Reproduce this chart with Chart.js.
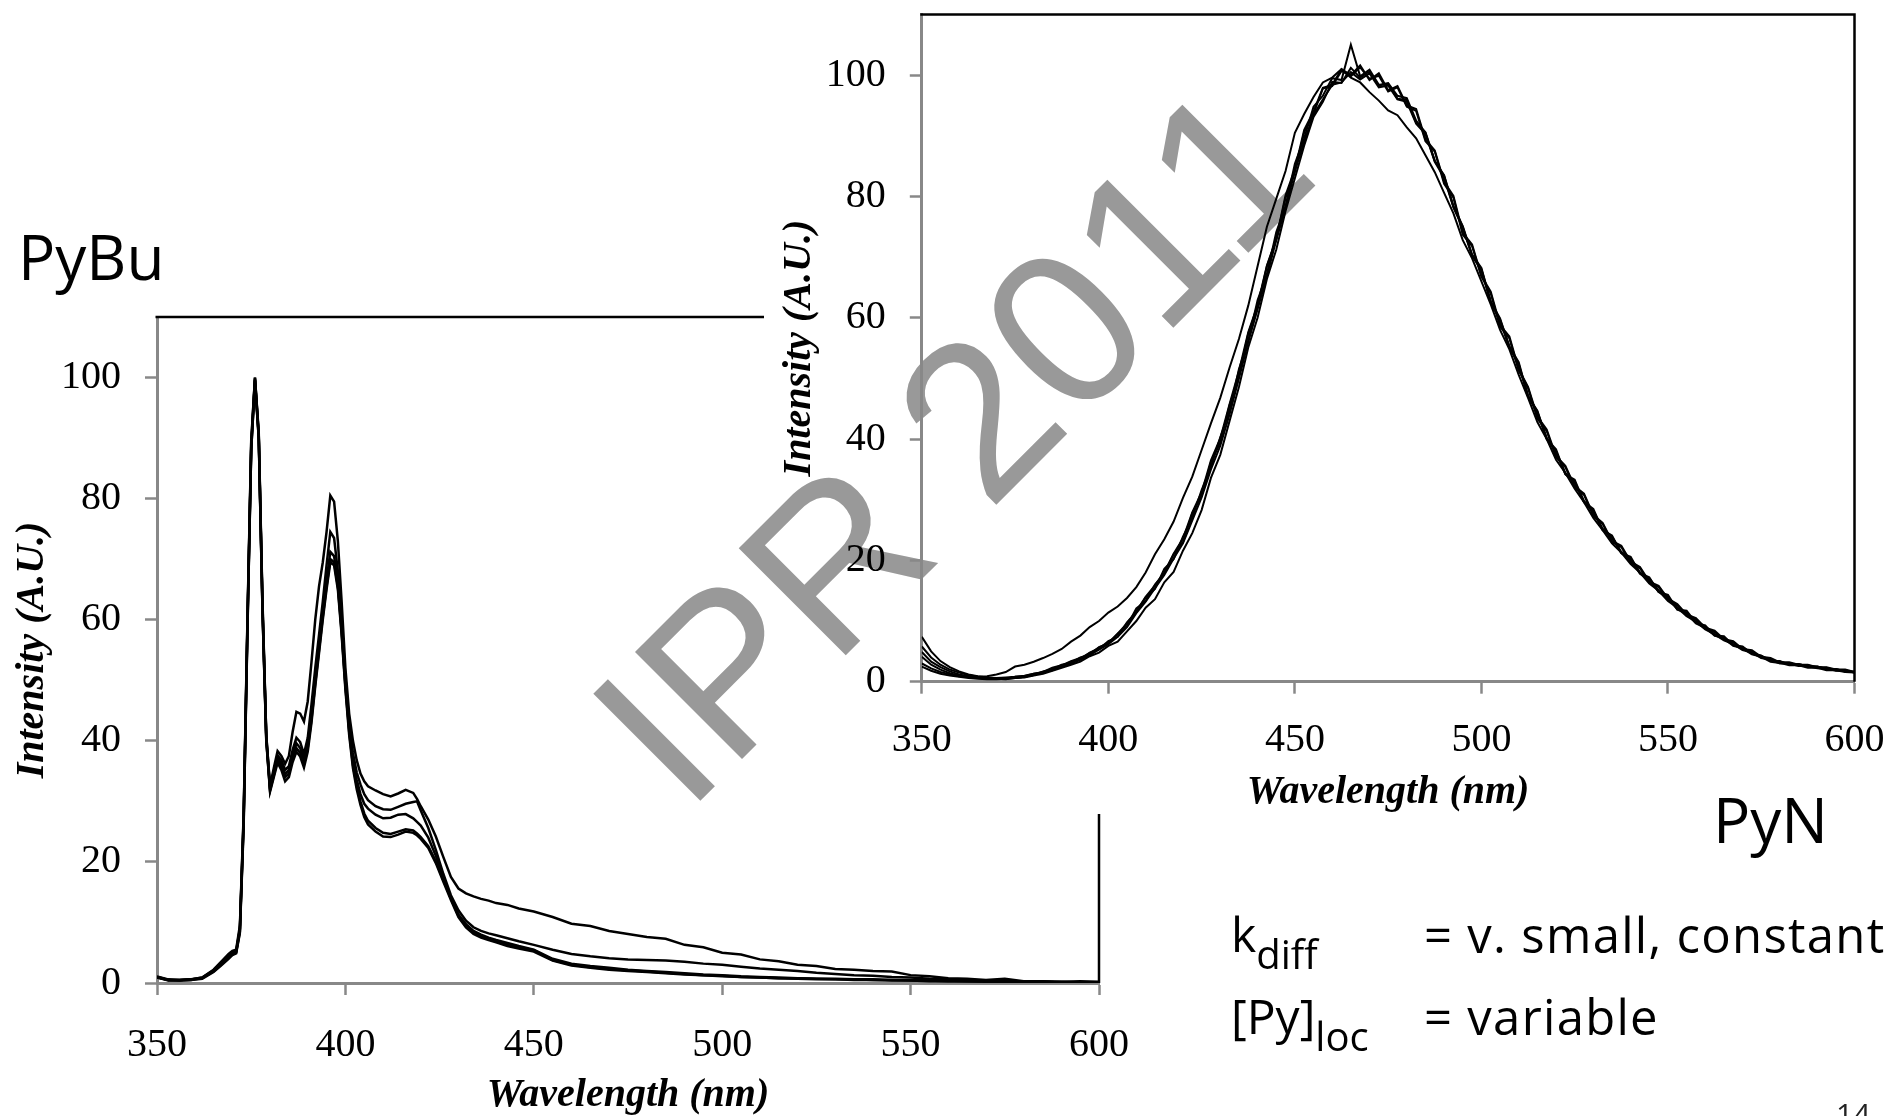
<!DOCTYPE html>
<html><head><meta charset="utf-8">
<script src="https://cdn.jsdelivr.net/npm/chart.js@4.4.1/dist/chart.umd.min.js"></script>
<style>
html,body{margin:0;padding:0;background:#fff;width:1892px;height:1116px;overflow:hidden;}
#wrap{position:relative;width:1892px;height:1116px;overflow:hidden;}
canvas{position:absolute;}
#cL{left:0;top:0;}
#cR{left:764px;top:0;}
.t{position:absolute;font-family:"Open Sans",sans-serif;color:#000;line-height:1;white-space:nowrap;}
.sub{position:relative;top:17px;font-size:40px;}
</style></head><body>
<div id="wrap">
<canvas id="cL" width="1892" height="1116"></canvas>
<canvas id="cR" width="1128" height="814"></canvas>
<div class="t" style="left:18px;top:225px;font-size:62px">PyBu</div>
<div class="t" style="left:1713px;top:788px;font-size:62px">PyN</div>
<div class="t" style="left:1231px;top:910px;font-size:48px">k<span class="sub">diff</span></div>
<div class="t" style="left:1424px;top:910px;font-size:49px;letter-spacing:1.3px">= v. small, constant</div>
<div class="t" style="left:1231px;top:992px;font-size:48px">[Py]<span class="sub">loc</span></div>
<div class="t" style="left:1424px;top:992px;font-size:49px;letter-spacing:1.3px">= variable</div>
<div class="t" style="left:1836px;top:1099px;font-size:30px;color:#222">14</div>
</div>
<script>
// ---------- PyBu (left chart) ----------
const wavelengthsPyBu = [350,353,356,359,362,365,367,369,370,371,372,373,374,375,376,377,378,379,380,
381,382,383,384,385,386,387,388,389,390,391,392,393,394,395,396,397,398,399,400,401,402,403,404,405,406,
408,410,412,414,416,418,419,420,
422,424,426,428,430,432,434,436,438,440,
443,446,
450,455,460,465,470,475,480,485,490,495,500,505,510,515,520,525,530,535,540,545,550,555,560,565,570,575,580,585,590,595,600];

const pyBu1 = [1.0,0.5,0.5,0.6,0.9,2.2,3.5,4.8,5.3,5.5,9.5,28,60,89.5,100,91,63,41,32.5,
35.5,38.3,37.5,36.2,37.5,41.5,44.8,44.5,43.2,46.5,53,60,65.5,69.5,74.5,80.5,79.5,73,63,52,44.5,40,36.8,34.6,33.3,32.5,
31.8,31.2,30.8,31.3,31.9,31.4,30.4,29.2,
27.0,24.2,20.8,17.5,15.6,14.8,14.3,13.9,13.6,13.2,
12.9,12.3,
11.8,10.9,9.8,9.4,8.6,8.1,7.6,7.3,6.3,5.9,5.0,4.7,3.9,3.6,3.0,2.8,2.3,2.2,2.0,1.9,1.3,1.1,0.8,0.7,0.5,0.7,0.3,0.3,0.2,0.3,0.2];

const pyBu2 = [1.0,0.5,0.5,0.6,0.9,2.1,3.4,4.6,5.1,5.3,9,27.5,59.5,89,100,90.5,62.5,40.8,32.3,
35.0,37.6,36.8,35.2,35.8,38.5,40.5,39.8,37.8,40.5,46,52,57.5,63,69,74.5,73.5,68,60,50.5,43,38,34.8,32.8,31.2,30.2,
29.2,28.7,28.6,29.1,29.6,29.9,30.0,28.5,
25.6,22.0,18.0,14.5,12.0,10.3,9.2,8.6,8.2,7.9,
7.4,6.9,
6.3,5.5,4.8,4.4,4.1,3.9,3.8,3.7,3.5,3.2,3.0,2.7,2.4,2.2,2.0,1.7,1.5,1.3,1.2,1.0,0.9,0.7,0.6,0.5,0.4,0.3,0.2,0.2,0.1,0.1,0.1];

const pyBu3 = [1.1,0.6,0.5,0.6,0.8,2.0,3.2,4.4,4.9,5.1,8.8,27,59,88.5,99.8,90.5,62,40.5,32.0,
34.6,37.2,36.2,34.5,35.2,37.8,39.6,38.8,36.9,39.5,44.5,50.5,56,61.5,66.5,71.2,70.5,66,58.5,49.5,42,36.8,33.6,31.2,29.6,28.8,
27.8,27.2,27.3,27.8,27.9,27.2,26.6,26.0,
24.0,21.0,17.4,14.0,11.3,9.7,8.6,8.0,7.5,7.1,
6.6,6.1,
5.5,4.0,3.2,2.8,2.5,2.2,2.0,1.8,1.6,1.4,1.3,1.1,1.0,0.9,0.8,0.7,0.7,0.6,0.6,0.5,0.5,0.4,0.4,0.3,0.3,0.3,0.2,0.2,0.2,0.1,0.1];

const pyBu4 = [0.9,0.5,0.4,0.5,0.8,1.9,3.0,4.2,4.7,5.0,8.5,26.5,58.5,88,99.6,90,61.5,40.2,31.8,
34.3,36.8,35.8,34.0,34.6,37.0,38.8,38.0,36.2,38.8,43.5,49.5,55,60.5,65.5,70.0,69.5,65.5,58,49,41.5,36,32.6,30.0,28.0,26.8,
25.6,24.8,24.6,25.0,25.4,25.2,24.7,24.1,
22.6,20.1,17.0,14.0,11.1,9.4,8.3,7.7,7.3,6.9,
6.3,5.9,
5.4,3.8,3.0,2.6,2.3,2.1,1.9,1.7,1.5,1.3,1.2,1.0,0.9,0.8,0.8,0.7,0.6,0.6,0.5,0.5,0.4,0.4,0.3,0.3,0.3,0.2,0.2,0.2,0.1,0.1,0.1];

const pyBu5 = [0.9,0.4,0.4,0.5,0.7,1.8,2.9,4.0,4.6,4.9,8.3,26,58,88,99.5,90,61.5,40,31.6,
34.0,36.4,35.2,33.3,34.0,36.5,38.2,37.4,35.6,38.2,43,49,54.5,60,65,69.5,69,65,57.5,48.5,41,35.5,32.0,29.4,27.4,26.2,
25.0,24.2,24.1,24.5,25.0,24.8,24.4,23.8,
22.3,19.8,16.7,13.7,10.9,9.2,8.1,7.5,7.1,6.7,
6.1,5.7,
5.2,3.7,2.9,2.5,2.2,2.0,1.8,1.6,1.4,1.3,1.1,1.0,0.9,0.8,0.7,0.6,0.6,0.5,0.5,0.4,0.4,0.3,0.3,0.3,0.2,0.2,0.2,0.1,0.1,0.1,0.1];

// ---------- PyN (right chart) ----------
const wavelengthsPyN = [350,352.5,355,357.5,360,362.5,365,367.5,370,372.5,375,377.5,380,382.5,385,387.5,390,392.5,395,397.5,
400,402.5,405,407.5,410,412.5,415,417.5,420,422.5,425,427.5,430,432.5,435,437.5,440,442.5,445,447.5,
450,452.5,455,457.5,460,462.5,465,467.5,470,472.5,475,477.5,480,482.5,485,487.5,490,492.5,495,497.5,
500,502.5,505,507.5,510,512.5,515,517.5,520,522.5,525,527.5,530,532.5,535,537.5,540,542.5,545,547.5,
550,552.5,555,557.5,560,562.5,565,567.5,570,572.5,575,577.5,580,582.5,585,587.5,590,592.5,595,597.5,600];

const pyN1 = [3.0,2.2,1.6,1.2,0.9,0.8,0.8,0.9,1.2,1.6,
2.5,2.8,3.3,3.9,4.6,5.4,6.6,7.6,9.0,10.0,
11.4,12.4,13.8,15.6,18.0,21.0,23.5,26.4,30.3,33.8,
38.2,42.6,46.8,51.8,56.5,62.0,68.5,75.0,79.6,84.2,
90.5,93.6,96.4,98.8,99.6,101.0,99.6,98.8,97.2,95.8,
94.2,93.4,91.4,89.6,86.8,84.0,80.6,77.2,72.8,69.8,
66.0,62.2,58.0,54.8,50.6,46.8,42.8,40.0,36.6,34.4,
31.8,29.6,27.0,25.0,22.8,21.3,19.4,18.0,16.2,15.0,
13.3,12.2,10.8,9.9,8.6,7.8,6.8,6.2,5.2,4.8,
3.9,3.6,3.0,3.0,2.6,2.6,2.2,2.2,1.8,1.8,
1.5];

const pyN2 = [7.4,5.0,3.4,2.4,1.7,1.2,0.9,0.7,0.6,0.5,
0.8,0.9,1.3,1.5,2.2,2.5,3.3,3.7,4.8,5.4,
6.7,7.4,9.8,11.5,13.9,15.3,18.6,20.2,23.9,27.0,
31.6,35.4,40.3,44.6,51.5,56.2,62.9,67.2,74.1,78.4,
85.4,89.6,94.8,96.6,99.5,99.2,105.0,99.8,100.9,98.4,
98.7,96.6,96.2,92.5,90.5,85.8,83.5,78.4,75.1,70.4,
68.2,62.6,59.9,55.2,52.7,47.0,44.7,40.0,38.3,34.2,
33.3,29.6,28.5,25.0,24.1,21.2,20.6,17.9,17.2,14.8,
14.3,11.9,11.7,9.7,9.3,7.6,7.5,6.0,5.8,4.6,
4.3,3.4,3.4,2.8,2.9,2.5,2.5,2.1,2.1,1.7,
1.6];

const pyN3 = [5.8,4.0,2.8,2.0,1.5,1.1,0.8,0.6,0.5,0.6,
0.6,0.8,1.1,1.7,2.0,2.8,3.1,4.0,4.4,5.7,
6.3,7.9,9.2,12.1,13.3,16.0,17.9,21.0,23.0,27.8,
30.6,36.2,39.4,45.6,50.4,57.4,61.8,68.5,72.9,79.8,
84.1,90.6,93.6,97.8,98.2,100.7,99.8,101.3,99.4,99.9,
97.3,98.0,94.8,94.1,89.1,87.4,82.1,79.8,73.7,71.8,
66.8,64.0,58.5,56.6,51.3,48.4,43.4,41.3,37.0,35.4,
32.0,30.8,27.3,26.0,23.0,22.2,19.6,18.7,16.3,15.6,
13.5,12.6,10.9,10.3,8.7,8.2,6.9,6.5,5.3,5.0,
4.0,3.8,3.1,3.1,2.7,2.7,2.3,2.3,1.9,1.9,
1.5];

const pyN4 = [4.9,3.3,2.4,1.7,1.2,0.9,0.7,0.5,0.5,0.4,
0.6,0.7,1.0,1.3,1.8,2.3,2.8,3.3,4.2,4.8,
5.9,6.6,8.3,10.0,12.2,13.6,16.4,18.1,21.6,24.5,
28.3,33.6,37.4,43.0,48.6,55.1,60.0,66.4,71.2,77.6,
83.0,88.4,93.1,95.6,98.9,98.7,101.2,99.6,100.6,98.3,
98.6,96.1,95.9,92.2,90.6,85.9,83.4,78.3,75.0,70.3,
68.0,62.7,59.7,55.3,52.4,47.2,44.5,40.2,38.0,34.4,
33.0,29.8,28.2,25.2,23.9,21.4,20.3,18.0,17.0,15.0,
14.0,12.1,11.4,9.8,9.1,7.8,7.3,6.1,5.7,4.7,
4.3,3.5,3.3,2.9,2.9,2.5,2.5,2.1,2.1,1.7,
1.7];

const pyN5 = [4.1,2.8,2.0,1.4,1.0,0.8,0.6,0.5,0.6,0.7,
0.8,1.0,1.3,1.6,2.3,2.7,3.4,3.9,4.7,5.6,
6.4,7.9,9.6,11.6,14.0,15.9,18.0,21.1,23.6,27.9,
31.2,36.5,40.1,45.8,51.2,57.6,62.1,68.6,73.0,80.2,
84.5,91.0,94.0,97.9,98.4,101.0,100.0,101.6,99.2,100.3,
97.5,98.2,95.0,94.4,89.4,87.6,82.4,80.1,74.0,72.1,
66.9,64.3,58.8,56.9,51.5,48.6,43.7,41.6,37.2,35.6,
32.2,31.0,27.5,26.2,23.2,22.4,19.8,18.9,16.5,15.8,
13.7,12.8,11.1,10.5,8.9,8.4,7.0,6.7,5.4,5.2,
4.1,3.9,3.2,3.2,2.8,2.8,2.4,2.4,2.0,2.0,
1.6];

const pyN6 = [2.5,1.8,1.3,1.0,0.8,0.6,0.5,0.4,0.4,0.5,
0.6,0.8,1.1,1.5,1.9,2.5,3.0,3.6,4.4,5.3,
6.2,7.4,9.0,11.3,13.2,15.4,17.6,20.3,22.8,26.6,
30.4,35.0,38.9,44.1,50.0,56.0,61.4,66.9,72.8,78.1,
84.2,89.0,93.5,96.0,98.4,98.8,100.5,99.3,100.3,98.0,
98.3,96.0,95.6,92.0,90.3,85.7,83.1,78.2,74.8,70.2,
67.8,62.5,59.5,55.1,52.2,47.0,44.3,40.0,37.8,34.2,
32.8,29.6,28.0,25.0,23.7,21.2,20.1,17.8,16.8,14.8,
13.8,11.9,11.2,9.6,8.9,7.6,7.1,5.9,5.5,4.5,
4.1,3.3,3.1,2.7,2.7,2.3,2.3,1.9,1.9,1.6,
1.5];

// ---------- shared pieces ----------
const xTitle = 'Wavelength (nm)';
const yTitle = 'Intensity (A.U.)';
const watermarkText = 'IPR 2011';

function bgAndWatermark(offX, offY) {
  return {
    id: 'bgwm',
    beforeDraw(chart) {
      const c = chart.ctx;
      c.save();
      c.fillStyle = '#fff';
      c.fillRect(0, 0, chart.width, chart.height);
      c.translate(686 - offX, 815 - offY);
      c.rotate(-Math.PI / 4);
      c.font = '220px "Liberation Sans", Arial, sans-serif';
      c.fillStyle = '#999999';
      c.textAlign = 'left';
      c.textBaseline = 'alphabetic';
      c.fillText(watermarkText, 0, 0);
      c.restore();
    }
  };
}
const frame = {
  id: 'frame',
  afterDatasetsDraw(chart) {
    const {left, right, top, bottom} = chart.chartArea;
    const c = chart.ctx;
    c.save();
    c.strokeStyle = '#000';
    c.lineWidth = 2.5;
    c.beginPath();
    c.moveTo(left - 1.5, top);
    c.lineTo(right, top);
    c.lineTo(right, bottom);
    c.stroke();
    c.restore();
  }
};

function toXY(xs, ys) { return xs.map((x, i) => ({x: x, y: ys[i]})); }
function ds(xs, ys, w) {
  return {data: toXY(xs, ys), borderColor: '#000', borderWidth: w, pointRadius: 0, fill: false, tension: 0};
}
const serif = '"Liberation Serif", "Times New Roman", serif';
function scales(o) {
  const grid = {drawOnChartArea: false, drawTicks: true, tickLength: 12, tickColor: '#888', tickWidth: 2.5, color: '#888'};
  const border = {display: true, color: '#888', width: 3};
  return {
    x: {
      type: 'linear', min: 350, max: 600,
      ticks: {stepSize: 50, includeBounds: false, autoSkip: false, maxRotation: 0, color: '#000',
              font: {family: serif, size: 40}, padding: o.xPad},
      grid: grid, border: border,
      title: {display: true, text: xTitle, color: '#000',
              font: {family: serif, size: 40, style: 'italic', weight: 'bold', lineHeight: 1},
              padding: {top: 0, bottom: o.xTitlePad}},
      afterFit: (s) => { s.height = o.xH; s.paddingLeft = 0; s.paddingRight = 0; s.paddingTop = 0; s.paddingBottom = 0; }
    },
    y: {
      type: 'linear', min: 0, max: 110,
      ticks: {stepSize: 20, includeBounds: false, autoSkip: false, color: '#000',
              font: {family: serif, size: 40}, padding: 24},
      grid: grid, border: border,
      title: {display: true, text: yTitle, color: '#000',
              font: {family: serif, size: 40, style: 'italic', weight: 'bold', lineHeight: 1},
              padding: {top: o.yTitlePad, bottom: 0}},
      afterFit: (s) => { s.width = o.yW; s.paddingLeft = 0; s.paddingRight = 0; s.paddingTop = 0; s.paddingBottom = 0; }
    }
  };
}
function baseOptions(pad, sc) {
  return {
    responsive: false, animation: false, devicePixelRatio: 1,
    layout: {padding: pad},
    plugins: {legend: {display: false}, tooltip: {enabled: false}, title: {display: false}},
    scales: sc
  };
}

new Chart(document.getElementById('cL'), {
  type: 'line',
  data: {datasets: [pyBu1, pyBu2, pyBu3, pyBu4, pyBu5].map(s => ds(wavelengthsPyBu, s, 2.5))},
  options: baseOptions({left: 0, top: 317, right: 793, bottom: 0},
    scales({xPad: 26, xTitlePad: 0, xH: 133, yTitlePad: 13, yW: 157})),
  plugins: [bgAndWatermark(0, 0), frame]
});

new Chart(document.getElementById('cR'), {
  type: 'line',
  data: {datasets: [pyN1, pyN2, pyN3, pyN4, pyN5, pyN6].map(s => ds(wavelengthsPyN, s, 2))},
  options: baseOptions({left: 0, top: 14.5, right: 37.5, bottom: 0},
    scales({xPad: 23, xTitlePad: 1, xH: 132.3, yTitlePad: 16, yW: 157.8})),
  plugins: [bgAndWatermark(764, 0), frame]
});
</script>
</body></html>
